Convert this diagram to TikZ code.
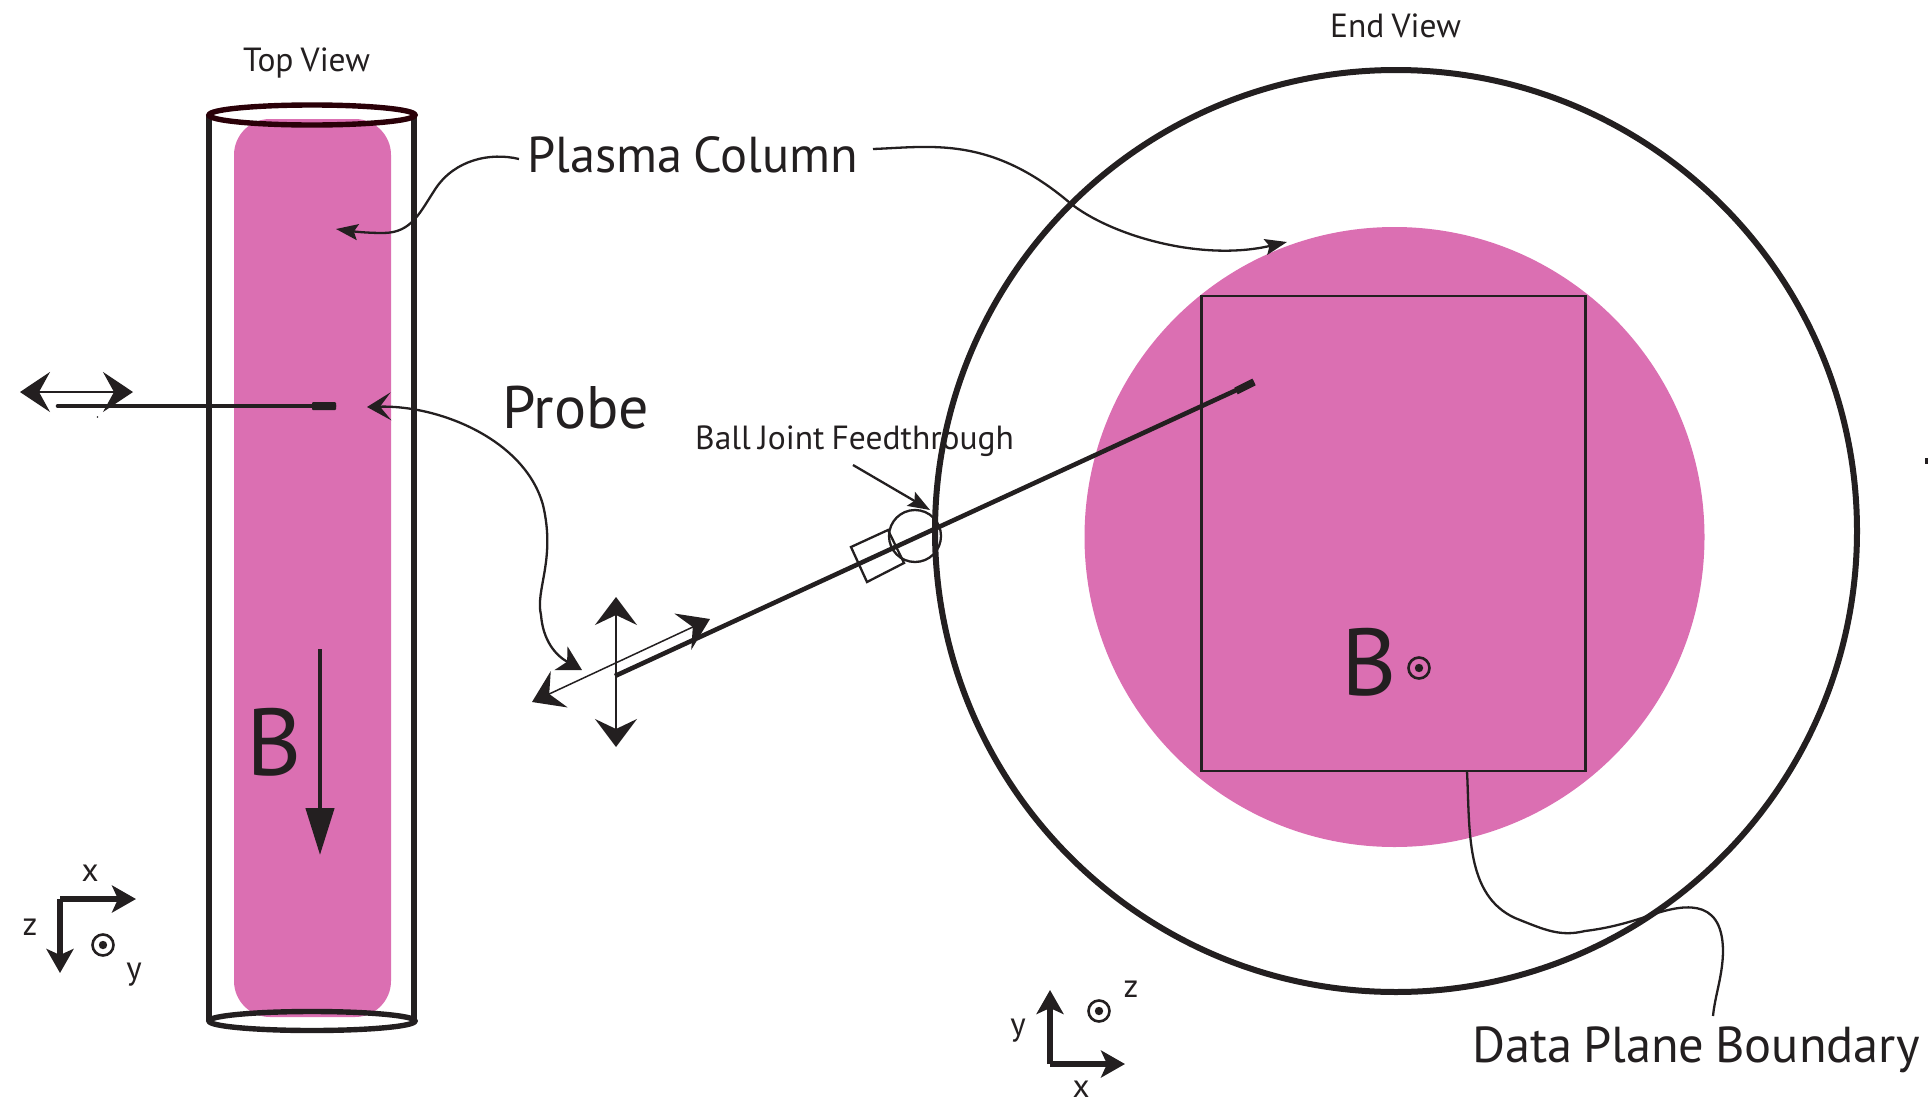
\documentclass[tikz,border=0pt]{standalone}
\usepackage{fontspec}
\setmainfont[WordSpace=0.8]{PT Sans}
\usetikzlibrary{arrows.meta}
\definecolor{plasma}{HTML}{DB6FB2}
\definecolor{ink}{HTML}{231F20}
\definecolor{maroon}{HTML}{2A0008}
\tikzset{
  x=1pt,y=-1pt,
  lbl/.style={inner sep=0pt,text=ink,anchor=base west},
  fine/.style={draw=ink,line width=2.3pt},
  heavy/.style={draw=ink,line width=4.6pt},
  wall/.style={draw=ink,line width=5.4pt},
  thin/.style={draw=ink,line width=1.5pt},
  small tip/.tip={Stealth[length=22pt,width=16pt,inset=4pt]},
  leader tip/.tip={Stealth[length=24pt,width=27pt,inset=7pt]},
  wide tip/.tip={Stealth[length=30pt,width=40pt,inset=11pt]},
  axis tip/.tip={Stealth[length=24pt,width=27pt,inset=6pt]},
}
\begin{document}
\begin{tikzpicture}
\useasboundingbox (0,0) rectangle (1928,1103);
% plasma
\fill[plasma,rounded corners=36pt] (234,119) rectangle (391,1017);
\fill[plasma] (1394.5,537) circle[radius=310];
% cylinder
\draw[wall] (209,115) -- (209,1021);
\draw[wall] (414,115) -- (414,1021);
\draw[line width=5.4pt,draw=maroon] (312,115) ellipse[x radius=103,y radius=10];
\draw[wall] (312,1021) ellipse[x radius=103,y radius=9.5];
% end view
\draw[draw=ink,line width=6pt] (1396,531) circle[radius=461];
\node[draw=ink,line width=2.8pt,minimum width=384pt,minimum height=475pt,inner sep=0pt,outer sep=0pt] (plane) at (1393.5,533.5) {};
% labels
\node[lbl,font=\fontsize{33.5}{33.5}\selectfont] (top) at (243,71) {Top View};
\node[lbl,font=\fontsize{33.5}{33.5}\selectfont] (end) at (1330,37) {End View};
\node[lbl,font=\fontsize{50.5}{50.5}\selectfont] (pc) at (527,172) {Plasma Column};
\node[lbl,font=\fontsize{60}{60}\selectfont] (probe) at (502,428) {Probe};
\node[lbl,font=\fontsize{33.5}{33.5}\selectfont] (ball) at (695,449) {Ball Joint Feedthrough};
\node[lbl,font=\fontsize{50.5}{50.5}\selectfont] (dpb) at (1472,1062) {Data Plane Boundary};
\node[lbl,font=\fontsize{95}{95}\selectfont] (b1) at (246,775) {B};
\node[lbl,font=\fontsize{95}{95}\selectfont] (b2) at (1341,695) {B};
\node[lbl,font=\fontsize{33}{33}\selectfont,anchor=center] (lx) at (90,873) {x};
\node[lbl,font=\fontsize{33}{33}\selectfont,anchor=center] (lz) at (30,927) {z};
\node[lbl,font=\fontsize{33}{33}\selectfont,anchor=center] (ly) at (134,975) {y};
\node[lbl,font=\fontsize{33}{33}\selectfont,anchor=center] (mz) at (1131,989) {z};
\node[lbl,font=\fontsize{33}{33}\selectfont,anchor=center] (my) at (1018,1031) {y};
\node[lbl,font=\fontsize{33}{33}\selectfont,anchor=center] (mx) at (1081,1089) {x};
% coordinates
\coordinate (pcl) at (519,159);
\coordinate (pct) at (336,229);
\coordinate (pcr) at (873,149);
\coordinate (pce) at (1287,242);
\coordinate (pa) at (367,407);
\coordinate (pb) at (582,670);
\coordinate (bs) at (853,465);
\coordinate (be) at (930,510);
\coordinate (ds) at (1467,771);
\coordinate (de) at (1713,1016);
\coordinate (p1a) at (58,406);
\coordinate (p1b) at (334,406);
\coordinate (p2a) at (615,676);
\coordinate (p2b) at (1254,382);
% leaders
\draw[fine,-{small tip}] (pcl) .. controls (490,152) and (455,160) .. (436,188) .. controls (420,212) and (412,233) .. (383,233) .. controls (365,233) and (350,231) .. (pct);
\draw[fine,{wide tip[length=24pt,width=28pt]}-{leader tip}] (pa) .. controls (440,405) and (525,440) .. (543,505) .. controls (556,560) and (535,590) .. (541,615) .. controls (543,640) and (555,655) .. (pb);
\draw[fine,-{small tip}] (pcr) .. controls (930,147) and (990,135) .. (1070,203) .. controls (1110,235) and (1200,262) .. (pce);
\draw[fine] (ds) .. controls (1470,830) and (1465,895) .. (1515,918) .. controls (1545,930) and (1560,937) .. (1585,931) .. controls (1610,928) and (1630,922) .. (1648,916) .. controls (1680,905) and (1722,895) .. (1723,950) .. controls (1723,975) and (1715,995) .. (de);
\draw[fine,-{small tip}] (bs) -- (be);
% probe 1
\draw[heavy,line cap=round] (p1a) -- (p1b);
\fill[ink,rounded corners=1pt] (312,402) rectangle (336,410);
\draw[thin,{wide tip}-{wide tip}] (20,392) -- (133,392);
\fill[ink] (97.5,417) circle[radius=0.9];
% probe 2
\draw[heavy] (p2a) -- (p2b);
\draw[draw=ink,line width=7.5pt] (1236,391) -- (p2b);
\draw[fine] (915,536) circle[radius=26];
\draw[fine] (851,547) -- (867,582) -- (904,563) -- (888,530) -- cycle;
\draw[thin,{wide tip}-{wide tip}] (532,702) -- (710,619);
\draw[fine,{axis tip[length=28pt,width=42pt,inset=10pt]}-{axis tip[length=28pt,width=42pt,inset=10pt]}] (616,597) -- (616,747);
% B arrow
\draw[draw=ink,line width=4.5pt,-{Stealth[length=47pt,width=28pt,inset=0pt]}] (320,649) -- (320,855);
% dots
\foreach \cx/\cy/\nm in {1419/668/da,103/945/db,1099/1011/dc}{
  \draw[draw=ink,line width=2.6pt] (\cx,\cy) circle[radius=10.5];
  \fill[ink] (\cx,\cy) circle[radius=4.2];
}
% axes
\coordinate (o1) at (60,899);
\coordinate (o2) at (1050,1064);
\draw[draw=ink,line width=5.5pt,-{axis tip}] (o1) -- (136,899);
\draw[draw=ink,line width=5.5pt,-{axis tip}] (o1) -- (60,973);
\draw[draw=ink,line width=5.5pt,-{axis tip}] (o2) -- (1050,990);
\draw[draw=ink,line width=5.5pt,-{axis tip}] (o2) -- (1125,1064);
\fill[ink] (1925,458) rectangle (1928,464);
\end{tikzpicture}
\end{document}
